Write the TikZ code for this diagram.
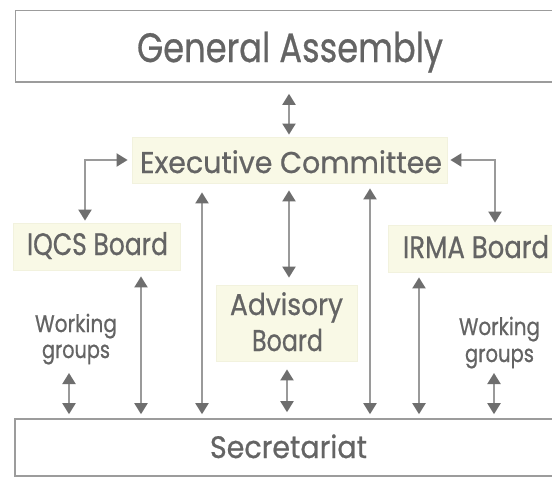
\documentclass[tikz,border=0pt]{standalone}
\usepackage{fontspec}
\setmainfont{Poppins}[FakeBold=0.7]
\usetikzlibrary{arrows.meta,calc}
\definecolor{txt}{HTML}{646464}
\definecolor{linec}{HTML}{9A9A9A}
\definecolor{tipc}{HTML}{6E6E6E}
\definecolor{creamc}{HTML}{F9F9E6}
\definecolor{creamline}{HTML}{F2F2DE}
\definecolor{boxline}{HTML}{9C9C9C}
\newcommand\fitw[2]{\resizebox{#1}{\height}{#2}}
\begin{document}
\begin{tikzpicture}[x=1pt,y=-1pt,
  conn/.style={draw=linec, line width=2pt, <->,
    >={Triangle[width=13pt,length=11pt,color=tipc,fill=tipc]}},
  creambox/.style={fill=creamc, draw=creamline, line width=0.8pt, inner sep=0pt},
  bigbox/.style={draw=boxline, line width=1.6pt, fill=white, inner sep=0pt},
  lbl/.style={text=txt, inner sep=0pt, anchor=base}]
\useasboundingbox (0,0) rectangle (552,477);
\fill[white] (0,0) rectangle (552,477);

% columns
\coordinate (xl) at (85,0);
\coordinate (xr) at (495,0);
\coordinate (c69) at (69,0);
\coordinate (c141) at (141,0);
\coordinate (c202) at (202,0);
\coordinate (c289) at (289,0);
\coordinate (c287) at (287,0);
\coordinate (c370) at (370,0);
\coordinate (c419) at (419,0);
\coordinate (c494) at (494,0);

% boxes
\node[bigbox, minimum width=549pt, minimum height=71.5pt] (ga) at (290,46.25) {};
\node[creambox, minimum width=315pt, minimum height=46pt] (ec) at (289.5,160) {};
\node[creambox, minimum width=167pt, minimum height=47pt] (iqcs) at (96.5,246.5) {};
\node[creambox, minimum width=176pt, minimum height=47pt] (irma) at (476,248.5) {};
\node[creambox, minimum width=141pt, minimum height=76pt] (adv) at (286.5,323) {};
\node[bigbox, minimum width=560pt, minimum height=57pt] (sec) at (295,447.5) {};

% texts
\node[lbl] (gat) at (290,62) {\fontsize{41}{41}\selectfont\fitw{306pt}{General Assembly}};
\node[lbl] (ect) at (291,173) {\fontsize{30}{30}\selectfont\fitw{302pt}{Executive Committee}};
\node[lbl] (iqcst) at (97.5,255) {\fontsize{31}{31}\selectfont\fitw{141pt}{IQCS Board}};
\node[lbl] (irmat) at (476,258) {\fontsize{31}{31}\selectfont\fitw{146pt}{IRMA Board}};
\node[lbl] (adva) at (286.5,315) {\fontsize{30}{30}\selectfont\fitw{113pt}{Advisory}};
\node[lbl] (advb) at (287.5,351) {\fontsize{30}{30}\selectfont\fitw{71pt}{Board}};
\node[lbl] (sect) at (288.5,458) {\fontsize{31}{31}\selectfont\fitw{157pt}{Secretariat}};
\node[lbl] (wgla) at (76,332) {\fontsize{24}{24}\selectfont\fitw{82pt}{Working}};
\node[lbl] (wglb) at (76,358) {\fontsize{24}{24}\selectfont\fitw{68pt}{groups}};
\node[lbl] (wgra) at (499.5,335) {\fontsize{24}{24}\selectfont\fitw{81pt}{Working}};
\node[lbl] (wgrb) at (499.5,362) {\fontsize{24}{24}\selectfont\fitw{69pt}{groups}};

% connectors
\draw[conn, shorten <=11pt, shorten >=2pt] (ga.south -| c289) -- (ec.north -| c289);
\draw[conn, shorten <=4pt, shorten >=2pt] (ec.west) -| (iqcs.north -| xl);
\draw[conn, shorten <=3pt, shorten >=2pt] (ec.east) -| (irma.north -| xr);
\draw[conn, shorten <=7pt, shorten >=7pt] (ec.south -| c289) -- (adv.north -| c289);
\draw[conn, shorten <=9pt, shorten >=4pt] (ec.south -| c202) -- (sec.north -| c202);
\draw[conn, shorten <=5pt, shorten >=4pt] (ec.south -| c370) -- (sec.north -| c370);
\draw[conn, shorten <=6pt, shorten >=4pt] (iqcs.south -| c141) -- (sec.north -| c141);
\draw[conn, shorten <=5pt, shorten >=4pt] (irma.south -| c419) -- (sec.north -| c419);
\draw[conn, shorten <=15pt, shorten >=4pt] (wglb.base -| c69) -- (sec.north -| c69);
\draw[conn, shorten <=8pt, shorten >=6pt] (adv.south -| c287) -- (sec.north -| c287);
\draw[conn, shorten <=11pt, shorten >=4pt] (wgrb.base -| c494) -- (sec.north -| c494);
\end{tikzpicture}
\end{document}
